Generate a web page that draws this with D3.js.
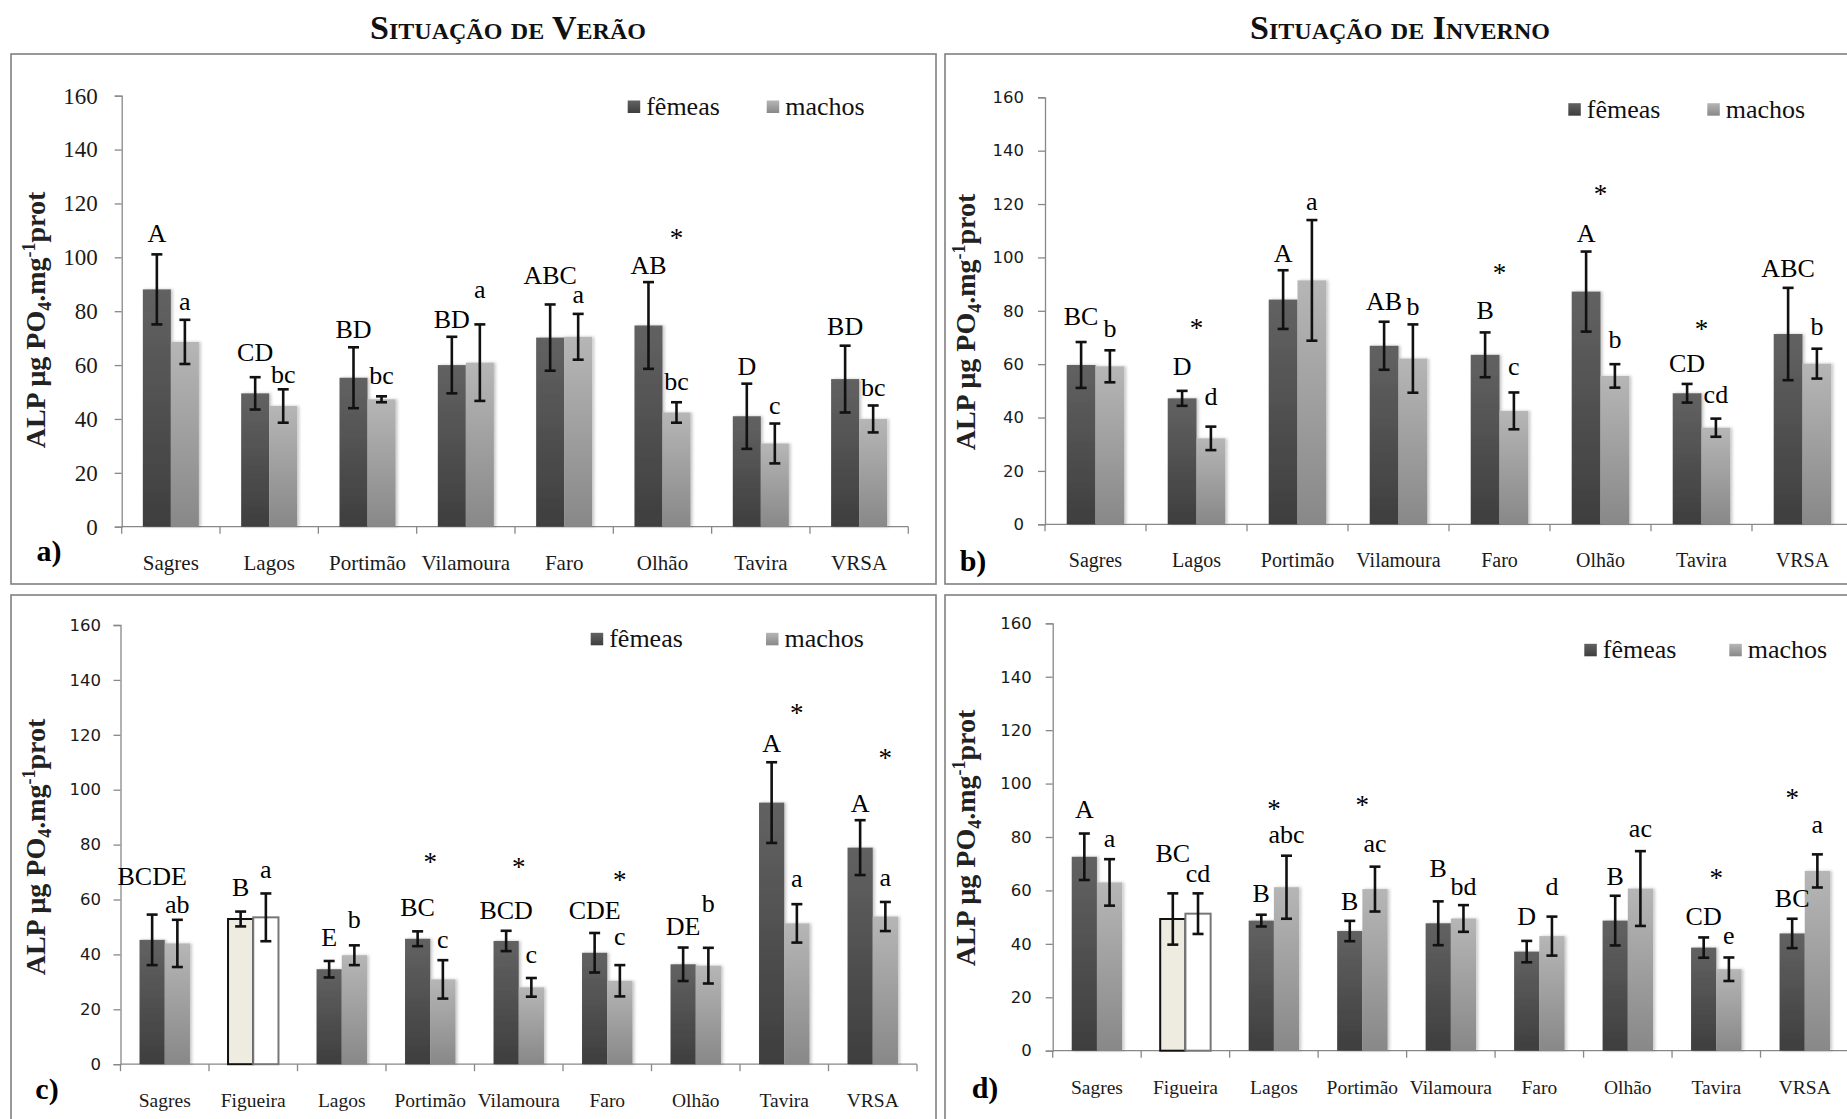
<!DOCTYPE html>
<html>
<head>
<meta charset="utf-8">
<title>ALP — Situação de Verão / Situação de Inverno</title>
<script src="https://cdn.jsdelivr.net/npm/d3@7"></script>
<style>
  html, body { margin: 0; padding: 0; background: #fff; }
  svg { display: block; }
</style>
</head>
<body>
<svg id="fig" width="1847" height="1119"></svg>
<script>
// ---------------------------------------------------------------------------
// Data
// ---------------------------------------------------------------------------
const sitesAB = ["Sagres", "Lagos", "Portimão", "Vilamoura", "Faro", "Olhão", "Tavira", "VRSA"];
const sitesCD = ["Sagres", "Figueira", "Lagos", "Portimão", "Vilamoura", "Faro", "Olhão", "Tavira", "VRSA"];
const yTicks = [0, 20, 40, 60, 80, 100, 120, 140, 160];
const seriesNames = ["fêmeas", "machos"];
const referenceSite = "Figueira";

// a) Situação de Verão
const femA    = [88.1, 49.5, 55.3, 60.0, 70.2, 74.7, 41.0, 54.8];
const femErrA = [13.0, 6.0, 11.3, 10.5, 12.3, 16.1, 12.1, 12.4];
const macA    = [68.6, 44.8, 47.3, 60.9, 70.5, 42.4, 30.9, 40.0];
const macErrA = [8.2, 6.2, 1.1, 14.2, 8.5, 3.8, 7.4, 5.0];
const femLetA = ["A", "CD", "BD", "BD", "ABC", "AB", "D", "BD"];
const macLetA = ["a", "bc", "bc", "a", "a", "bc", "c", "bc"];
const femLetAtA = [105.8, 61.6, 69.9, 73.6, 90.0, 93.8, 56.3, 71.2];
const macLetAtA = [80.4, 53.2, 53.0, 84.8, 83.2, 50.7, 42.0, 48.5];
const starsA = [{ site: "Olhão", at: 108.6, over: "M" }];

// b) Situação de Inverno
const femB    = [59.7, 47.2, 84.2, 66.9, 63.5, 87.2, 49.1, 71.3];
const femErrB = [8.6, 2.8, 11.0, 9.0, 8.4, 15.0, 3.5, 17.3];
const macB    = [59.2, 32.2, 91.4, 62.1, 42.5, 55.6, 36.2, 60.2];
const macErrB = [6.0, 4.4, 22.6, 12.8, 6.9, 4.4, 3.4, 5.6];
const femLetB = ["BC", "D", "A", "AB", "B", "A", "CD", "ABC"];
const macLetB = ["b", "d", "a", "b", "c", "b", "cd", "b"];
const femLetAtB = [74.7, 56.0, 98.4, 80.3, 76.8, 105.9, 57.2, 92.6];
const macLetAtB = [70.1, 44.7, 117.8, 78.4, 56.0, 66.0, 45.3, 70.9];
const starsB = [
  { site: "Lagos", at: 74.9, over: "mid" },
  { site: "Faro", at: 95.6, over: "mid" },
  { site: "Olhão", at: 125.3, over: "mid" },
  { site: "Tavira", at: 74.7, over: "mid" }
];

// c) Situação de Verão
const femC    = [45.3, 52.9, 34.6, 45.7, 44.9, 40.6, 36.4, 95.3, 78.9];
const femErrC = [9.2, 2.7, 3.0, 2.7, 3.7, 7.2, 6.1, 14.7, 10.0];
const macC    = [44.0, 53.5, 39.7, 30.9, 28.0, 30.4, 35.9, 51.3, 53.8];
const macErrC = [8.6, 8.7, 3.6, 7.0, 3.4, 5.7, 6.5, 7.0, 5.3];
const femLetC = ["BCDE", "B", "E", "BC", "BCD", "CDE", "DE", "A", "A"];
const macLetC = ["ab", "a", "b", "c", "c", "c", "b", "a", "a"];
const femLetAtC = [65.3, 61.3, 43.1, 54.0, 52.8, 52.8, 47.1, 113.9, 92.0];
const macLetAtC = [55.0, 67.7, 49.5, 42.2, 36.8, 43.4, 55.6, 64.4, 64.9];
const starsC = [
  { site: "Portimão", at: 75.0, over: "mid" },
  { site: "Vilamoura", at: 73.2, over: "mid" },
  { site: "Faro", at: 68.7, over: "M" },
  { site: "Tavira", at: 129.3, over: "M" },
  { site: "VRSA", at: 113.0, over: "M" }
];

// d) Situação de Inverno
const femD    = [72.6, 49.3, 48.7, 44.8, 47.7, 37.1, 48.7, 38.6, 43.9];
const femErrD = [8.7, 9.6, 2.2, 3.8, 8.2, 4.0, 9.3, 3.8, 5.5];
const macD    = [63.0, 51.3, 61.2, 60.5, 49.5, 42.9, 60.7, 30.5, 67.3];
const macErrD = [8.7, 7.6, 11.8, 8.4, 5.0, 7.3, 14.0, 4.4, 6.2];
const femLetD = ["A", "BC", "B", "B", "B", "D", "B", "CD", "BC"];
const macLetD = ["a", "cd", "abc", "ac", "bd", "d", "ac", "e", "a"];
const femLetAtD = [87.0, 70.8, 55.8, 52.7, 65.1, 47.0, 62.0, 47.0, 53.9];
const macLetAtD = [76.4, 63.3, 77.6, 74.5, 58.3, 58.3, 80.1, 39.9, 81.4];
const starsD = [
  { site: "Lagos", at: 92.0, over: "mid" },
  { site: "Portimão", at: 93.3, over: "mid" },
  { site: "Tavira", at: 66.1, over: "mid" },
  { site: "VRSA", at: 96.0, over: "F" }
];

const titles = ["Situação de Verão", "Situação de Inverno"];

// ---------------------------------------------------------------------------
// Layout and style of the four panels
// ---------------------------------------------------------------------------
const SERIF = "'Liberation Serif', 'Times New Roman', serif";
const SANS = "'DejaVu Sans', Verdana, sans-serif";

const panels = [
  {
    tag: "a)", sites: sitesAB,
    fem: femA, femErr: femErrA, mac: macA, macErr: macErrA,
    femLet: femLetA, macLet: macLetA, femLetAt: femLetAtA, macLetAt: macLetAtA, stars: starsA,
    frame: [11, 54, 925, 530],
    x0: 121.7, x1: 908.3, y0: 526.7, yTop: 95.7,
    tickFont: SERIF, tickSize: 23, tickPad: 17, catSize: 21,
    legend: { x: 627.7, y: 115, gap: 139 },
    ylabX: 45, ylabY: 320, tagX: 49, tagY: 561
  },
  {
    tag: "b)", sites: sitesAB,
    fem: femB, femErr: femErrB, mac: macB, macErr: macErrB,
    femLet: femLetB, macLet: macLetB, femLetAt: femLetAtB, macLetAt: macLetAtB, stars: starsB,
    frame: [945, 54, 925, 530],
    x0: 1045, x1: 1853, y0: 524.3, yTop: 97.3,
    tickFont: SANS, tickSize: 16.5, tickPad: 14, catSize: 20,
    legend: { x: 1568.3, y: 117.7, gap: 139 },
    ylabX: 975, ylabY: 322, tagX: 973, tagY: 571
  },
  {
    tag: "c)", sites: sitesCD,
    fem: femC, femErr: femErrC, mac: macC, macErr: macErrC,
    femLet: femLetC, macLet: macLetC, femLetAt: femLetAtC, macLetAt: macLetAtC, stars: starsC,
    frame: [11, 595, 925, 545],
    x0: 120.5, x1: 917, y0: 1064.2, yTop: 625,
    tickFont: SANS, tickSize: 16.5, tickPad: 12.5, catSize: 19.5,
    legend: { x: 590.7, y: 647.3, gap: 175.3 },
    ylabX: 45, ylabY: 847, tagX: 47, tagY: 1099
  },
  {
    tag: "d)", sites: sitesCD,
    fem: femD, femErr: femErrD, mac: macD, macErr: macErrD,
    femLet: femLetD, macLet: macLetD, femLetAt: femLetAtD, macLetAt: macLetAtD, stars: starsD,
    frame: [945, 595, 925, 545],
    x0: 1052.7, x1: 1849, y0: 1050.7, yTop: 623.3,
    tickFont: SANS, tickSize: 16.5, tickPad: 14, catSize: 19.5,
    legend: { x: 1584.3, y: 658.3, gap: 145 },
    ylabX: 975, ylabY: 838, tagX: 985, tagY: 1098
  }
];

// ---------------------------------------------------------------------------
// Drawing
// ---------------------------------------------------------------------------
const svg = d3.select("#fig");
svg.append("rect").attr("width", 1847).attr("height", 1119).attr("fill", "#fff");

const defs = svg.append("defs");
function vGrad(id, top, bottom) {
  const g = defs.append("linearGradient").attr("id", id)
    .attr("x1", 0).attr("y1", 0).attr("x2", 0).attr("y2", 1);
  g.append("stop").attr("offset", "0%").attr("stop-color", top);
  g.append("stop").attr("offset", "100%").attr("stop-color", bottom);
}
vGrad("gFem", "#626262", "#3e3e3e");
vGrad("gMac", "#b6b6b6", "#888888");
const fills = { F: "url(#gFem)", M: "url(#gMac)" };

// soft shadow along the right side of the bars
const shadow = defs.append("filter").attr("id", "barShadow")
  .attr("x", "-10%").attr("y", "-5%").attr("width", "130%").attr("height", "110%");
shadow.append("feDropShadow").attr("dx", 2).attr("dy", 0).attr("stdDeviation", 1.4)
  .attr("flood-color", "#000").attr("flood-opacity", 0.22);

// Column titles
const titleX = [508, 1400];
titles.forEach((t, i) => {
  svg.append("text")
    .attr("x", titleX[i]).attr("y", 39)
    .attr("text-anchor", "middle")
    .attr("font-family", SERIF).attr("font-weight", "bold")
    .attr("font-size", 34).style("font-variant", "small-caps")
    .attr("fill", "#111")
    .text(t);
});

function drawPanel(p) {
  const g = svg.append("g");

  // frame
  g.append("rect")
    .attr("x", p.frame[0]).attr("y", p.frame[1])
    .attr("width", p.frame[2]).attr("height", p.frame[3])
    .attr("fill", "none").attr("stroke", "#808080").attr("stroke-width", 1.6);

  const y = d3.scaleLinear().domain([0, 160]).range([p.y0, p.yTop]);
  const x = d3.scaleBand().domain(p.sites).range([p.x0, p.x1])
    .paddingInner(0.43).paddingOuter(0.215);
  const sub = d3.scaleBand().domain(["F", "M"]).range([0, x.bandwidth()]);

  // y axis
  const yAxis = d3.axisLeft(y).tickValues(yTicks).tickSize(7).tickPadding(p.tickPad);
  const ya = g.append("g").attr("transform", `translate(${p.x0},0)`).call(yAxis);
  ya.select(".domain").attr("stroke", "#888").attr("stroke-width", 1.3);
  ya.selectAll(".tick line").attr("stroke", "#888").attr("stroke-width", 1.3);
  ya.selectAll(".tick text")
    .attr("font-family", p.tickFont).attr("font-size", p.tickSize)
    .attr("fill", "#1a1a1a");

  // x axis with boundary ticks and category labels
  const xa = g.append("g").attr("transform", `translate(0,${p.y0})`);
  xa.append("line").attr("x1", p.x0).attr("x2", p.x1)
    .attr("stroke", "#888").attr("stroke-width", 1.3);
  const bounds = d3.range(p.sites.length + 1).map(i => p.x0 + i * x.step());
  xa.selectAll("line.bt").data(bounds).join("line").attr("class", "bt")
    .attr("x1", d => d).attr("x2", d => d).attr("y1", 0).attr("y2", 7)
    .attr("stroke", "#888").attr("stroke-width", 1.3);
  xa.selectAll("text.cat").data(p.sites).join("text").attr("class", "cat")
    .attr("x", d => x(d) + x.bandwidth() / 2).attr("y", 43)
    .attr("text-anchor", "middle")
    .attr("font-family", SERIF).attr("font-size", p.catSize).attr("fill", "#1a1a1a")
    .text(d => d);

  // bars and error bars
  const rows = [];
  p.sites.forEach((s, i) => {
    rows.push({ site: s, k: "F", v: p.fem[i], e: p.femErr[i], lab: p.femLet[i], at: p.femLetAt[i] });
    rows.push({ site: s, k: "M", v: p.mac[i], e: p.macErr[i], lab: p.macLet[i], at: p.macLetAt[i] });
  });
  const cx = r => x(r.site) + sub(r.k) + sub.bandwidth() / 2;

  g.selectAll("rect.bar").data(rows).join("rect").attr("class", "bar")
    .attr("x", r => x(r.site) + sub(r.k))
    .attr("width", sub.bandwidth())
    .attr("y", r => y(r.v))
    .attr("height", r => y(0) - y(r.v))
    .attr("fill", r => r.site === referenceSite ? (r.k === "F" ? "#eeebe0" : "#ffffff") : fills[r.k])
    .attr("stroke", r => r.site === referenceSite ? (r.k === "F" ? "#111" : "#777") : "none")
    .attr("stroke-width", 2)
    .attr("filter", r => r.site === referenceSite ? null : "url(#barShadow)");

  const eb = g.selectAll("g.err").data(rows).join("g").attr("class", "err")
    .attr("stroke", "#111").attr("stroke-width", 2.6);
  eb.append("line")
    .attr("x1", cx).attr("x2", cx)
    .attr("y1", r => y(r.v + r.e)).attr("y2", r => y(r.v - r.e));
  eb.append("line")
    .attr("x1", r => cx(r) - 5.5).attr("x2", r => cx(r) + 5.5)
    .attr("y1", r => y(r.v + r.e)).attr("y2", r => y(r.v + r.e));
  eb.append("line")
    .attr("x1", r => cx(r) - 5.5).attr("x2", r => cx(r) + 5.5)
    .attr("y1", r => y(r.v - r.e)).attr("y2", r => y(r.v - r.e));

  // letters of the post-hoc groups
  g.selectAll("text.let").data(rows).join("text").attr("class", "let")
    .attr("x", cx).attr("y", r => y(r.at))
    .attr("text-anchor", "middle")
    .attr("font-family", SERIF).attr("font-size", 26).attr("fill", "#000")
    .text(r => r.lab);

  // asterisks for differences between sexes
  const starX = s => {
    if (s.over === "F") return x(s.site) + sub("F") + sub.bandwidth() / 2;
    if (s.over === "M") return x(s.site) + sub("M") + sub.bandwidth() / 2;
    return x(s.site) + x.bandwidth() / 2;
  };
  g.selectAll("text.star").data(p.stars).join("text").attr("class", "star")
    .attr("x", starX).attr("y", s => y(s.at) + 13)
    .attr("text-anchor", "middle")
    .attr("font-family", SERIF).attr("font-size", 27).attr("fill", "#000")
    .text("*");

  // legend
  const lg = g.append("g").attr("transform", `translate(${p.legend.x},${p.legend.y})`);
  seriesNames.forEach((n, i) => {
    const it = lg.append("g").attr("transform", `translate(${i * p.legend.gap},0)`);
    it.append("rect").attr("x", 0).attr("y", -14.5).attr("width", 12.5).attr("height", 12.5)
      .attr("fill", i === 0 ? fills.F : fills.M);
    it.append("text").attr("x", 18.5).attr("y", 0)
      .attr("font-family", SERIF).attr("font-size", 26).attr("fill", "#111")
      .text(n);
  });

  // y-axis title
  const yl = g.append("text")
    .attr("transform", `translate(${p.ylabX},${p.ylabY}) rotate(-90)`)
    .attr("text-anchor", "middle")
    .attr("font-family", SERIF).attr("font-weight", "bold").attr("font-size", 28)
    .attr("fill", "#222");
  yl.append("tspan").text("ALP µg PO");
  yl.append("tspan").attr("dy", 6).attr("font-size", 18).text("4");
  yl.append("tspan").attr("dy", -6).text(".mg");
  yl.append("tspan").attr("dy", -10).attr("font-size", 18).text("-1");
  yl.append("tspan").attr("dy", 10).text("prot");

  // panel tag
  g.append("text")
    .attr("x", p.tagX).attr("y", p.tagY)
    .attr("text-anchor", "middle")
    .attr("font-family", SERIF).attr("font-weight", "bold").attr("font-size", 30)
    .attr("fill", "#000")
    .text(p.tag);
}

panels.forEach(drawPanel);
</script>
</body>
</html>
